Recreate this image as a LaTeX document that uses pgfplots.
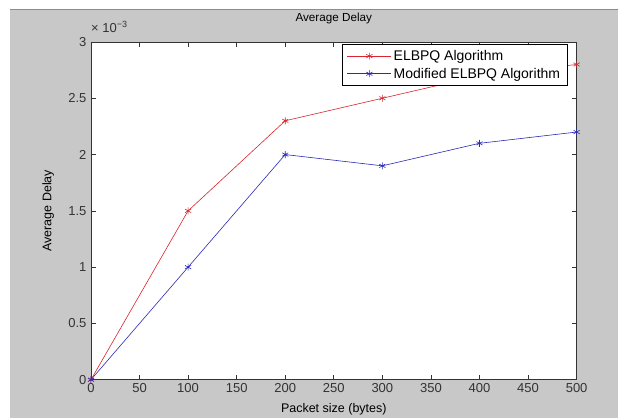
\documentclass[border=0pt]{standalone}
\usepackage{pgfplots}
\pgfplotsset{compat=1.18}
\usepackage{fontspec}
\setmainfont{Liberation Sans}
\definecolor{figgray}{HTML}{C8C8C8}
\definecolor{mred}{HTML}{D8262C}
\definecolor{mblue}{HTML}{2A2AB8}
\begin{document}
\begin{tikzpicture}
% figure background (MATLAB window)
\fill[white] (-91pt,-38pt) rectangle (527pt,380pt);
\fill[figgray] (-81pt,-38pt) rectangle (527pt,371pt);
\draw[gray!90, line width=0.8pt] (-81pt,371pt) -- (527pt,371pt);
\begin{axis}[
  at={(0pt,0pt)}, anchor=south west,
  scale only axis, width=486pt, height=338pt,
  xmin=0, xmax=500, ymin=0, ymax=3,
  xtick={0,50,...,500}, ytick={0,0.5,...,3},
  clip mode=individual,
  tick align=inside, major tick length=5pt,
  axis background/.style={fill=white},
  axis line style={black!80, line width=0.6pt},
  tick style={black!80, line width=0.6pt},
  /pgf/number format/assume math mode=true,
  ticklabel style={font=\fontsize{13}{15}\selectfont, text=black!80},
  yticklabel style={xshift=-1pt},
  title={Average Delay},
  title style={font=\fontsize{11.7}{14}\selectfont, at={(axis description cs:0.5,1.053)}, anchor=center},
  xlabel={Packet size (bytes)},
  xlabel style={font=\fontsize{12.5}{15}\selectfont, at={(axis description cs:0.5,-0.086)}, anchor=center},
  ylabel={Average Delay},
  ylabel style={font=\fontsize{12.5}{15}\selectfont, at={(axis description cs:-0.088,0.5)}, anchor=center},
  legend style={at={(axis description cs:0.981,0.994)}, anchor=north east,
    draw=black, fill=white, line width=0.6pt, font=\fontsize{14}{16}\selectfont,
    inner xsep=5pt, inner ysep=4pt, row sep=2pt},
  legend cell align=left,
  legend image code/.code={\draw[mark repeat=2,mark phase=2,#1] plot coordinates {(0pt,0pt) (22pt,0pt) (44pt,0pt)};},
]
\addplot[color=mred, line width=0.6pt, mark=asterisk, mark size=3.5pt] coordinates {
  (0,0) (100,1.5) (200,2.3) (300,2.5) (400,2.7) (500,2.8)
};
\addlegendentry{ELBPQ Algorithm}
\addplot[color=mblue, line width=0.6pt, mark=asterisk, mark size=3.5pt] coordinates {
  (0,0) (100,1.0) (200,2.0) (300,1.9) (400,2.1) (500,2.2)
};
\addlegendentry{Modified ELBPQ Algorithm}
\node[anchor=base west, inner sep=0pt, font=\fontsize{13}{15}\selectfont, text=black!80]
  at (axis description cs:0,1.027) {× 10\raisebox{5pt}{\fontsize{9}{10}\selectfont −3}};
\end{axis}
\end{tikzpicture}
\end{document}
